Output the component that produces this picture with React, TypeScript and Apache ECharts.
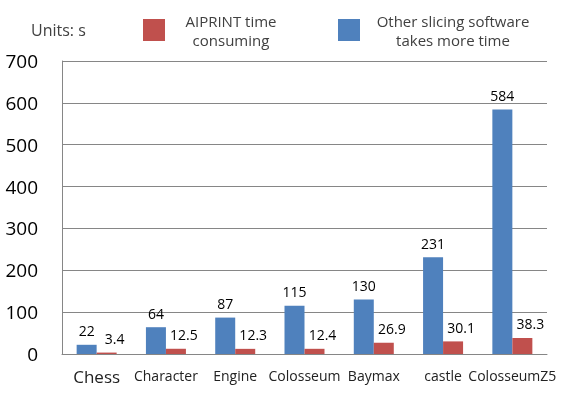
import React, { useEffect, useRef } from "react";
import * as echarts from "echarts";

const categories = ["Chess", "Character", "Engine", "Colosseum", "Baymax", "castle", "ColosseumZ5"];
const otherValues = [22, 64, 87, 115, 130, 231, 584];
const aiprintValues = [3.4, 12.5, 12.3, 12.4, 26.9, 30.1, 38.3];
const otherName = "Other slicing software\ntakes more time";
const aiprintName = "AIPRINT time\nconsuming";
const unitsText = "Units: s";

const FONT = "'Open Sans', 'Noto Sans', sans-serif";

export default function App() {
  const ref = useRef<HTMLDivElement>(null);
  useEffect(() => {
    if (!ref.current) return;
    const chart = echarts.init(ref.current, null, { renderer: "svg" });
    chart.setOption({
      animation: false,
      textStyle: { fontFamily: FONT },
      grid: { left: 62, right: 15, top: 61, bottom: 52, containLabel: false },
      graphic: [
        {
          type: "text",
          left: 31,
          top: 22,
          style: { text: unitsText, fontSize: 16, fill: "#404040", fontFamily: FONT },
        },
      ],
      legend: {
        left: 143,
        top: 13,
        padding: 0,
        width: 419,
        itemWidth: 22,
        itemHeight: 22,
        itemGap: 46,
        icon: "rect",
        data: [aiprintName, otherName],
        formatter: (name: string) => {
          const key = name === aiprintName ? "a" : "b";
          return name
            .split("\n")
            .map((l) => `{${key}|${l}}`)
            .join("\n");
        },
        textStyle: {
          color: "#404040",
          fontSize: 15,
          fontFamily: FONT,
          rich: {
            a: { width: 122, align: "center", fontSize: 15, lineHeight: 19, color: "#404040", fontFamily: FONT },
            b: { width: 176, align: "center", fontSize: 15, lineHeight: 19, color: "#404040", fontFamily: FONT },
          },
        },
      },
      xAxis: {
        type: "category",
        data: categories,
        axisLine: { show: true, lineStyle: { color: "#868686", width: 1 } },
        axisTick: { show: false },
        axisLabel: {
          interval: 0,
          margin: 14,
          fontSize: 14,
          color: "#222",
          fontFamily: FONT,
          formatter: (v: string) => (v === "Chess" ? `{big|${v}}` : v),
          rich: { big: { fontSize: 17, color: "#222", fontFamily: FONT } },
        },
      },
      yAxis: {
        type: "value",
        min: 0,
        max: 700,
        interval: 100,
        axisLine: { show: true, lineStyle: { color: "#868686", width: 1 } },
        axisTick: { show: false },
        splitLine: { show: true, lineStyle: { color: "#868686", width: 1 } },
        axisLabel: { fontSize: 19, color: "#000", margin: 24, fontFamily: FONT },
      },
      series: [
        {
          name: otherName,
          type: "bar",
          data: otherValues,
          barWidth: 20,
          barGap: "0%",
          itemStyle: { color: "#4F81BD" },
          label: { show: true, position: "top", distance: 7, fontSize: 14, color: "#000", fontFamily: FONT },
        },
        {
          name: aiprintName,
          type: "bar",
          data: aiprintValues,
          barWidth: 20,
          barGap: "0%",
          itemStyle: { color: "#C0504D" },
          label: { show: true, position: "top", distance: 7, offset: [8, 0], fontSize: 14, color: "#000", fontFamily: FONT },
        },
      ],
    });
    return () => chart.dispose();
  }, []);
  return (
    <div
      ref={ref}
      style={{ position: "fixed", left: 0, top: 0, width: 562, height: 406 }}
    />
  );
}
